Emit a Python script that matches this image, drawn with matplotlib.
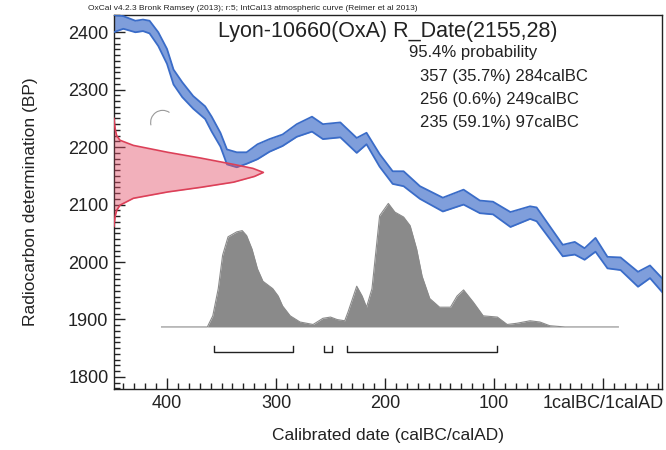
import numpy as np
import matplotlib.pyplot as plt
from matplotlib.patches import Arc
from matplotlib.ticker import MultipleLocator, FixedLocator

plt.rcParams['font.family'] = ['Liberation Sans', 'DejaVu Sans']

# IntCal13 curve (year AD, negative = BC): centre and half width in BP
curve_year = [-449, -440, -429, -422, -416, -408, -400, -394, -386, -376, -365, -359,
              -351, -345, -336, -327, -317, -306, -294, -281, -267, -257, -241, -226,
              -217, -205, -193, -183, -168, -147, -128, -113, -101, -85, -67, -61,
              -37, -26, -17, -7, 4, 16, 32, 43, 54]
curve_bp = [2415, 2417, 2410, 2412, 2409, 2388, 2358, 2322, 2300, 2278, 2260, 2240,
            2213, 2183, 2178, 2181, 2192, 2203, 2212, 2229, 2240, 2227, 2230, 2203,
            2215, 2177, 2147, 2145, 2121, 2100, 2113, 2096, 2094, 2074, 2086, 2083,
            2020, 2024, 2014, 2030, 1999, 1997, 1970, 1983, 1960]
curve_sig = [15, 11, 10, 10, 11, 12, 13, 13, 13, 11, 11, 13,
             12, 13, 13, 10, 13, 11, 10, 11, 13, 13, 13, 13,
             10, 11, 11, 13, 11, 12, 13, 11, 11, 13, 11, 12,
             10, 11, 10, 12, 10, 11, 13, 11, 12]

# radiocarbon date R_Date(2155,28) shape
red_bp = [2250, 2240, 2230, 2220, 2212, 2203, 2191, 2181, 2170, 2163, 2156, 2149, 2139,
          2130, 2122, 2111, 2099, 2090, 2080, 2070, 2062]
red_w = [0.0, 0.004, 0.009, 0.018, 0.04, 0.13, 0.36, 0.58, 0.80, 0.93, 1.0, 0.94, 0.80,
         0.58, 0.36, 0.13, 0.04, 0.018, 0.008, 0.003, 0.0]

# calibrated probability (relative)
cal_year = [-405, -370, -363, -358, -353, -349, -344, -336, -331, -327, -322, -317,
            -312, -303, -298, -294, -287, -278, -266, -257, -250, -244, -237, -234,
            -226, -221, -217, -212, -205, -197, -191, -183, -177, -171, -166, -159,
            -150, -140, -134, -128, -119, -110, -97, -88, -79, -67, -58, -49, -35, 14]
cal_p = [0, 0, 0.0, 0.09, 0.31, 0.58, 0.73, 0.77, 0.78, 0.74, 0.63, 0.47,
         0.37, 0.31, 0.25, 0.17, 0.09, 0.04, 0.02, 0.07, 0.08, 0.06, 0.05, 0.12,
         0.33, 0.25, 0.16, 0.31, 0.90, 1.00, 0.93, 0.89, 0.82, 0.63, 0.41, 0.23,
         0.16, 0.16, 0.25, 0.30, 0.20, 0.09, 0.08, 0.02, 0.03, 0.05, 0.04, 0.01, 0, 0]

# 95.4% ranges (calBC)
ranges = [(357, 284), (256, 249), (235, 97)]
range_text = ['357 (35.7%) 284calBC', '256 (0.6%) 249calBC', '235 (59.1%) 97calBC']

xticks = [-400, -300, -200, -100, 0]
xticklabels = ['400', '300', '200', '100', '1calBC/1calAD']

W, H = 666, 450
fig = plt.figure(figsize=(W / 100, H / 100), dpi=100)
ax = fig.add_axes([114 / W, 1 - 389 / H, (662 - 114) / W, (389 - 15) / H])
ax.set_xlim(-448.6, 54)
ax.set_ylim(1779, 2430)

cy = np.array(curve_year)
cb = np.array(curve_bp)
cs = np.array(curve_sig)
ax.fill_between(cy, cb - cs, cb + cs, color='#7f9edb', lw=0, zorder=2)
ax.plot(cy, cb + cs, color='#3a6cc8', lw=1.3, zorder=3)
ax.plot(cy, cb - cs, color='#3a6cc8', lw=1.3, zorder=3)

# red date distribution
x0 = -448.6
rw = np.array(red_w) * 137
ax.fill_betweenx(red_bp, x0, x0 + rw, color='#e4506a', alpha=0.45, lw=0, zorder=4)
ax.plot(x0 + rw, red_bp, color='#dc4058', lw=1.2, zorder=4)

# calibrated distribution
base = 1887
gp = base + np.array(cal_p) * 215
ax.fill_between(cal_year, base, gp, color='#8a8a8a', lw=0, zorder=2)
ax.plot(cal_year, gp, color='#8a8a8a', lw=0.8, zorder=2)

# range brackets
for a, b in ranges:
    ax.plot([-a, -a, -b, -b], [1853, 1843, 1843, 1853], color='#222222', lw=1)

ax.add_patch(Arc((-404, 2243), 22, 42, theta1=70, theta2=205, color='#999999', lw=0.8))

ax.xaxis.set_major_locator(FixedLocator(xticks))
ax.set_xticklabels(xticklabels)
ax.xaxis.set_minor_locator(MultipleLocator(10))
ax.yaxis.set_major_locator(MultipleLocator(100))
ax.yaxis.set_minor_locator(MultipleLocator(10))
ax.tick_params(which='both', direction='in', color='#222222', width=1,
               labelsize=13, labelcolor='#222222')
ax.tick_params(which='major', length=8, pad=4)
ax.tick_params(which='minor', length=4)
for s in ax.spines.values():
    s.set_color('#222222')
    s.set_linewidth(1)

ax.set_xlabel('Calibrated date (calBC/calAD)', fontsize=12.5, color='#222222', labelpad=12)
ax.set_ylabel('Radiocarbon determination (BP)', fontsize=12.5, color='#222222', labelpad=22)

fig.text(253 / W, 1 - 8 / H,
         'OxCal v4.2.3 Bronk Ramsey (2013); r:5; IntCal13 atmospheric curve (Reimer et al 2013)',
         fontsize=6, ha='center', va='center', color='#222222')
fig.text(388 / W, 1 - 32 / H, 'Lyon-10660(OxA) R_Date(2155,28)', fontsize=15.5,
         ha='center', va='center', color='#222222')
fig.text(409 / W, 1 - 52 / H, '95.4% probability', fontsize=12,
         ha='left', va='center', color='#222222')
for i, t in enumerate(range_text):
    fig.text(420 / W, 1 - (77 + 22.5 * i) / H, t, fontsize=12,
             ha='left', va='center', color='#222222')

fig.savefig('out.png', dpi=100)
